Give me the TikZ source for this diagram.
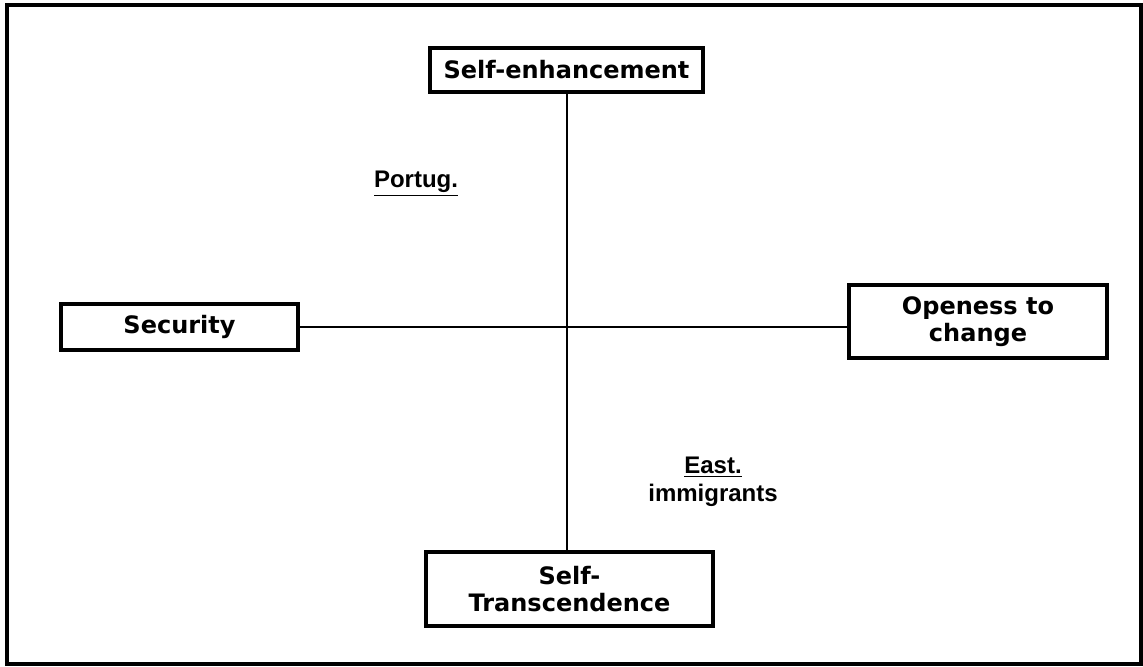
\documentclass[tikz,border=0pt]{standalone}
\usepackage{fontspec}
\setmainfont{Liberation Sans}
\newfontfamily\verdanalike{DejaVu Sans}
\usepackage{tikz}
\usetikzlibrary{calc}
\usetikzlibrary{positioning}
\tikzstyle{valuenode}=[black, draw=black, line width=1.8pt, shape=rectangle, fill=white, inner sep=2pt, align=center, font=\verdanalike\bfseries\fontsize{12}{13.5}\selectfont]
\tikzstyle{groupnode}=[black, shape=rectangle, inner sep=0pt, align=center, font=\bfseries\fontsize{12}{14}\selectfont]
\tikzstyle{axisline}=[line width=1pt, color=black]

\begin{document}
\begin{tikzpicture}[x=0.5pt, y=-0.5pt]
\useasboundingbox (0,0) rectangle (1143,666);
\draw[line width=1.6pt] (7,5) rectangle (1141,664);

\node [valuenode, minimum width=136.5pt, minimum height=22pt] (enhance) at (566.5,70) {Self-enhancement};
\node [valuenode, minimum width=118.5pt, minimum height=23pt] (security) at (179.5,327) {Security};
\node [valuenode, minimum width=129pt, minimum height=36.5pt] (openness) at (978,321.5) {Openess to\\change};
\node [valuenode, minimum width=143.5pt, minimum height=37pt] (transcend) at (569.5,589) {Self-\\Transcendence};

\node [groupnode] (portug) at (416,184) {\underline{Portug.}};
\node [groupnode] (east) at (713,467) {\underline{East.}};
\node [groupnode, below=3pt of east] (immigr) {immigrants};

\draw[axisline] (enhance.south) -- (enhance.south |- transcend.north);
\draw[axisline] (security.east) -- (security.east -| openness.west);
\end{tikzpicture}
\end{document}
